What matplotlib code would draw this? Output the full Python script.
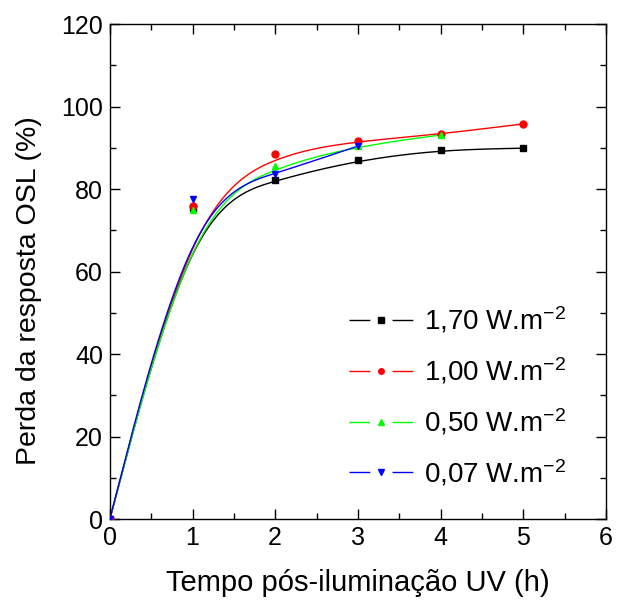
import numpy as np
import matplotlib
matplotlib.use("Agg")
import matplotlib.pyplot as plt
from matplotlib.lines import Line2D
from matplotlib.ticker import MultipleLocator

plt.rcParams['font.family'] = ['Liberation Sans', 'DejaVu Sans']
plt.rcParams['mathtext.fontset'] = 'custom'
plt.rcParams['mathtext.rm'] = 'Liberation Sans'
plt.rcParams['mathtext.it'] = 'Liberation Sans:italic'
plt.rcParams['mathtext.bf'] = 'Liberation Sans:bold'

# Exposure time after UV illumination (h)
t_170 = [0, 1, 2, 3, 4, 5]
t_100 = [0, 1, 2, 3, 4, 5]
t_050 = [0, 1, 2, 3, 4]
t_007 = [0, 1, 2, 3]

# Loss of OSL response (%)
loss_170 = [0, 75.5, 82.2, 87.0, 89.5, 89.9]
loss_100 = [0, 75.9, 88.5, 91.6, 93.3, 95.8]
loss_050 = [0, 74.9, 85.5, 90.4, 93.1]
loss_007 = [0, 77.7, 83.7, 90.4]

labels = ["1,70 W.m$^{-2}$", "1,00 W.m$^{-2}$", "0,50 W.m$^{-2}$", "0,07 W.m$^{-2}$"]
colors = ["#000000", "#ff0000", "#00ff00", "#0000ff"]
markers = ["s", "o", "^", "v"]


def bspline(xs, ys, per_seg=60):
    """Uniform cubic B-spline with the data points as control points
    (end points tripled so the curve starts and ends on them)."""
    P = np.column_stack([xs, ys]).astype(float)
    P = np.vstack([P[:1], P[:1], P, P[-1:], P[-1:]])
    M = np.array([[-1, 3, -3, 1],
                  [3, -6, 3, 0],
                  [-3, 0, 3, 0],
                  [1, 4, 1, 0]]) / 6.0
    s = np.linspace(0, 1, per_seg)
    S = np.column_stack([s ** 3, s ** 2, s, np.ones_like(s)])
    pts = [S @ M @ P[j:j + 4] for j in range(len(P) - 3)]
    C = np.vstack(pts)
    return C[:, 0], C[:, 1]


fig = plt.figure(figsize=(6.17, 6.04), dpi=100)
ax = fig.add_axes([0.178, 0.1407, 0.804, 0.8195])

series = [(t_170, loss_170), (t_100, loss_100), (t_050, loss_050), (t_007, loss_007)]
handles = []
for (tx, ly), c, mk, lab in zip(series, colors, markers, labels):
    bx, by = bspline(tx, ly)
    ax.plot(bx, by, color=c, lw=1.0, zorder=2)
    ax.plot(tx, ly, ls='none', marker=mk, color=c, ms=5, zorder=3)
    handles.append(Line2D([], [], color=c, lw=1.0, ls=(0, (15, 16)),
                          marker=mk, ms=4, label=lab))

ax.set_xlim(0, 6)
ax.set_ylim(0, 120)
ax.xaxis.set_major_locator(MultipleLocator(1))
ax.xaxis.set_minor_locator(MultipleLocator(0.5))
ax.yaxis.set_major_locator(MultipleLocator(20))
ax.yaxis.set_minor_locator(MultipleLocator(10))
ax.tick_params(which='both', direction='in', top=True, right=True, width=1.0)
ax.tick_params(which='major', length=7, labelsize=18, pad=5)
ax.tick_params(which='minor', length=4)
for s in ax.spines.values():
    s.set_linewidth(1.0)

ax.set_xlabel("Tempo pós-iluminação UV (h)", fontsize=21, labelpad=14)
ax.set_ylabel("Perda da resposta OSL (%)", fontsize=20.5)
ax.yaxis.set_label_coords(-0.137, 0.4606)

leg = ax.legend(handles=handles, loc='lower right', bbox_to_anchor=(0.943, 0.040),
                frameon=False, fontsize=20, handlelength=2.3, handletextpad=0.4,
                labelspacing=0.72, numpoints=1, borderaxespad=0.0)

fig.savefig("out.png", dpi=100)
